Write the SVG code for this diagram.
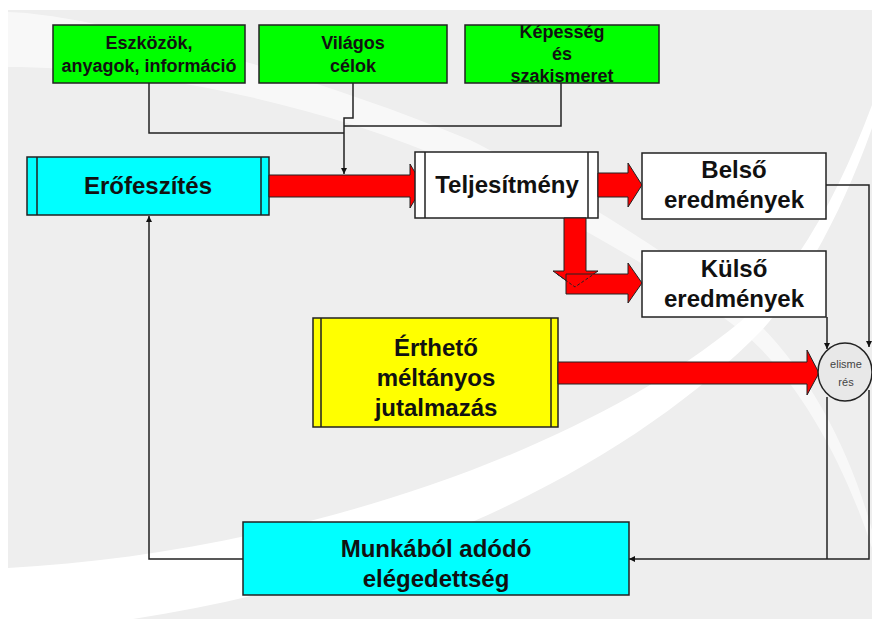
<svg xmlns="http://www.w3.org/2000/svg" width="872" height="619" viewBox="0 0 872 619">
<defs>
<style>
.box{stroke:#222;stroke-width:1.5}
.green{fill:#00ff00}
.cyan{fill:#00ffff}
.white{fill:#ffffff}
.yellow{fill:#ffff00}
.inner{stroke:#222;stroke-width:1.5;fill:none}
.lbl{font-family:"Liberation Sans",Arial,sans-serif;font-weight:bold;fill:#111;text-anchor:middle}
.sm{font-size:18px}
.big{font-size:24px}
.red{fill:#ff0000;stroke:#222;stroke-width:1}
.con{fill:none;stroke:#222;stroke-width:1.5}
.arr{marker-end:url(#ah)}
</style>
<marker id="ah" viewBox="0 0 6 6" markerWidth="6" markerHeight="6" refX="6" refY="3" orient="auto" markerUnits="userSpaceOnUse">
<path d="M0,0 L6,3 L0,6 z" fill="#111"/>
</marker>
</defs>

<g id="background">
<rect x="0" y="0" width="872" height="619" fill="#ffffff"/>
<rect x="8" y="10" width="864" height="609" fill="#eeeeee"/>
<path d="M8 12 C90 14 300 70 470 140 C560 185 690 265 760 325 C810 375 850 450 872 530 L872 548 C840 450 790 370 740 330 C670 275 560 215 460 165 C300 95 120 67 8 67 Z" fill="#ffffff" opacity="0.6"/>
<path d="M8 568 C250 556 560 470 740 322 C800 268 840 190 872 105 L872 128 C845 205 805 282 762 330 C640 455 420 575 133 619 L8 619 Z" fill="#ffffff"/>
</g>

<g id="connectors">
<path class="con" d="M149 83 V133 H344"/>
<path class="con" d="M561 83 V126 H344"/>
<path class="con arr" d="M353 83 V118 H344 V174"/>
<path class="con arr" d="M243 559 H149 V216"/>
<path class="con arr" d="M826 185 H869 V347"/>
<path class="con arr" d="M827 317 V349"/>
<path class="con" d="M827 397 V559"/>
<path class="con arr" d="M869 390 V559 H629"/>
</g>

<g id="n-eszkozok">
<rect class="box green" x="53" y="25" width="192" height="58"/>
<text class="lbl sm" x="149" y="49">Eszközök,</text>
<text class="lbl sm" x="149" y="72">anyagok, információ</text>
</g>
<g id="n-vilagos">
<rect class="box green" x="259" y="25" width="188" height="58"/>
<text class="lbl sm" x="353" y="49">Világos</text>
<text class="lbl sm" x="353" y="72">célok</text>
</g>
<g id="n-kepesseg">
<rect class="box green" x="465" y="25" width="194" height="58"/>
<text class="lbl sm" x="562" y="38">Képesség</text>
<text class="lbl sm" x="562" y="60">és</text>
<text class="lbl sm" x="562" y="82">szakismeret</text>
</g>

<g id="n-erofeszites">
<rect class="box cyan" x="27" y="157" width="242" height="58"/>
<path class="inner" d="M37 157 V215 M261 157 V215"/>
<text class="lbl big" x="148" y="194">Erőfeszítés</text>
</g>

<g id="a-ero-telj">
<polygon class="red" points="269,175 410,175 410,164 423,186 410,208 410,197 269,197"/>
</g>

<g id="n-teljesitmeny">
<rect class="box white" x="415" y="152" width="183" height="66"/>
<path class="inner" d="M425 152 V218 M588 152 V218"/>
<text class="lbl big" x="507" y="193">Teljesítmény</text>
</g>

<g id="a-telj-belso">
<polygon class="red" points="598,173 628,173 628,163 642,185 628,207 628,197 598,197"/>
</g>

<g id="a-telj-kulso">
<polygon class="red" points="564,218 586,218 586,271 598,271 575,287 553,271 564,271"/>
<polygon class="red" points="566,274 628,274 628,263 642,283 628,303 628,294 566,294"/>
<path d="M557 274 L575 287 L594 274" fill="none" stroke="#222" stroke-width="1" stroke-dasharray="3,2"/>
</g>

<g id="n-belso">
<rect class="box white" x="642" y="153" width="184" height="66"/>
<text class="lbl big" x="734" y="178">Belső</text>
<text class="lbl big" x="734" y="208">eredmények</text>
</g>

<g id="n-kulso">
<rect class="box white" x="642" y="251" width="184" height="66"/>
<text class="lbl big" x="734" y="277">Külső</text>
<text class="lbl big" x="734" y="307">eredmények</text>
</g>

<g id="n-jutalmazas">
<rect class="box yellow" x="313" y="318" width="245" height="109"/>
<path class="inner" d="M321 318 V427 M551 318 V427"/>
<text class="lbl big" x="436" y="356">Érthető</text>
<text class="lbl big" x="436" y="386">méltányos</text>
<text class="lbl big" x="436" y="416">jutalmazás</text>
</g>

<g id="a-jut-elism">
<polygon class="red" points="558,362 807,362 807,350 819,373 807,395 807,384 558,384"/>
</g>

<g id="n-elismeres">
<ellipse cx="845" cy="372" rx="27" ry="29" fill="#e8e8e8" stroke="#222" stroke-width="1.5"/>
<text x="846" y="368" font-family="Liberation Sans,Arial,sans-serif" font-size="11" fill="#444" text-anchor="middle">elisme</text>
<text x="846" y="386" font-family="Liberation Sans,Arial,sans-serif" font-size="11" fill="#444" text-anchor="middle">rés</text>
</g>

<g id="n-munkabol">
<rect class="box cyan" x="243" y="522" width="386" height="73"/>
<text class="lbl big" x="436" y="557">Munkából adódó</text>
<text class="lbl big" x="436" y="587">elégedettség</text>
</g>
</svg>
